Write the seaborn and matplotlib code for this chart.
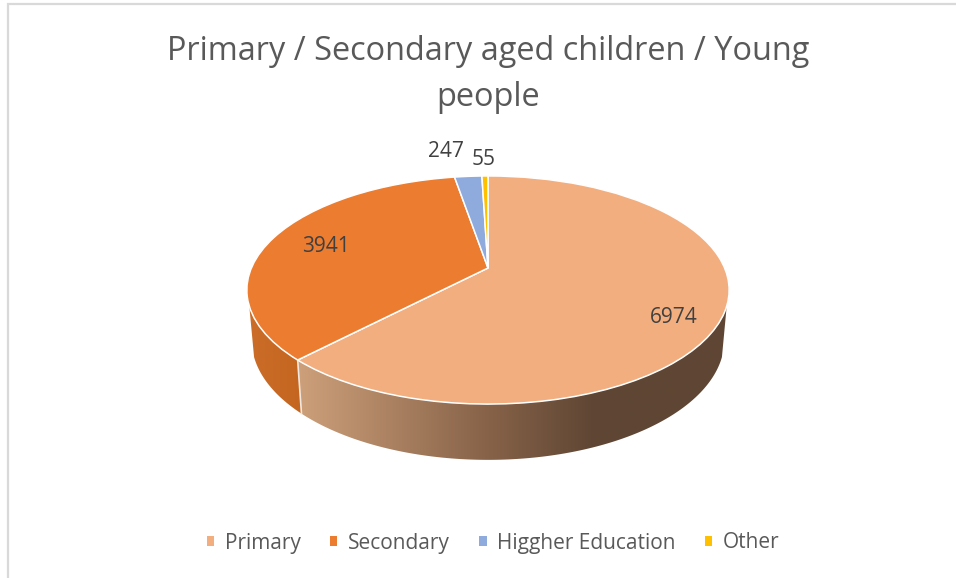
import numpy as np
import matplotlib
matplotlib.use("Agg")
import matplotlib.pyplot as plt
import matplotlib.transforms as mtransforms
from matplotlib.colors import LinearSegmentedColormap
from matplotlib.patches import Patch, Polygon
import seaborn as sns

categories = ["Primary", "Secondary", "Higgher Education", "Other"]
values = [6974, 3941, 247, 55]
title_lines = ["Primary / Secondary aged children / Young", "people"]

sns.set_theme(style="white")
plt.rcParams["font.family"] = ["Open Sans", "DejaVu Sans"]
palette = sns.color_palette(["#F2AE7F", "#EB7C30", "#8FAADC", "#FFC000"])

K, A, C = 0.193, 109.8, 236.6      # perspective of the disc


class Perspective(mtransforms.Transform):
    input_dims = output_dims = 2
    has_inverse = False

    def transform_non_affine(self, xy):
        xy = np.asarray(xy, dtype=float)
        w = 1 + K * xy[:, 1]
        return np.column_stack([C * xy[:, 0] / w, A * xy[:, 1] / w])


fig = plt.figure(figsize=(9.56, 5.78), dpi=100, facecolor="white")
ax = fig.add_axes([0, 0, 1, 1])

persp = Perspective()
wedges, _ = ax.pie(values, colors=palette, startangle=90, counterclock=False,
                   wedgeprops=dict(edgecolor="white", linewidth=1.1))
for w in wedges:
    w.set_transform(persp + ax.transData)
    w.set_zorder(3)


def top_edge(theta):
    return persp.transform_non_affine(np.column_stack([np.sin(theta), np.cos(theta)]))


def bottom_edge(theta):
    p = top_edge(theta)
    return np.column_stack([p[:, 0] * 0.98, p[:, 1] * 1.05 - 49])


def wall_polygon(t0, t1):
    tt = np.linspace(t0, t1, 200)
    return np.vstack([top_edge(tt), bottom_edge(tt)[::-1]])


# side wall, shaded by horizontal position
split = 2 * np.pi * values[0] / sum(values)
primary_shade = LinearSegmentedColormap.from_list(
    "primary_wall", [(0, "#CDA07A"), (0.43, "#886349"), (0.68, "#5F4634"), (1, "#5F4634")])
secondary_shade = LinearSegmentedColormap.from_list("secondary_wall", ["#CC6E2A", "#C4661F"])
ramp = np.linspace(0, 1, 512)[None, :]
walls = [(np.radians(109), split, primary_shade, (-190, 245)),
         (split, np.radians(251), secondary_shade, (-245, -186))]
for t0, t1, cmap, (x0, x1) in walls:
    img = ax.imshow(ramp, cmap=cmap, extent=(x0, x1, -220, 0), aspect="auto",
                    interpolation="bilinear", zorder=1)
    clip = Polygon(wall_polygon(t0, t1), closed=True, transform=ax.transData,
                   facecolor="none", edgecolor="none")
    ax.add_patch(clip)
    img.set_clip_path(clip)

st = np.array([split])
ax.plot([top_edge(st)[0, 0], bottom_edge(st)[0, 0]],
        [top_edge(st)[0, 1], bottom_edge(st)[0, 1]],
        color="#F2E8E0", lw=1.2, zorder=2)

ax.set_aspect("auto")
ax.set_xlim(-488, 468)
ax.set_ylim(-310, 268)
ax.set_frame_on(True)

# chart frame
ax.plot([-480.5, -480.5, 468], [-310, 264.5, 264.5], color="#D9D9D9", lw=1.6,
        clip_on=False, solid_capstyle="butt", solid_joinstyle="miter", zorder=0)

# title
ax.text(0, 217, title_lines[0], ha="center", va="center", fontsize=23.4, color="#595959")
ax.text(0, 171, title_lines[1], ha="center", va="center", fontsize=23.4, color="#595959")

# data labels
label_pos = [(186, -49.5), (-162, 21.5), (-42, 116.5), (-4, 108.5)]
for v, (x, y) in zip(values, label_pos):
    ax.text(x, y, str(v), ha="center", va="center", fontsize=15, color="#404040", zorder=5)

handles = [Patch(facecolor=c, edgecolor="none", label=n) for c, n in zip(palette, categories)]
ax.legend(handles=handles, ncol=4, loc="center", bbox_to_anchor=(493 / 956, 1 - 543 / 578),
          frameon=False, fontsize=15, labelcolor="#595959", handlelength=0.37, handleheight=0.37,
          handletextpad=0.5, columnspacing=1.4)

sns.despine(ax=ax, left=True, bottom=True)
ax.set_xticks([])
ax.set_yticks([])
fig.savefig("out.png", dpi=100, facecolor="white")
